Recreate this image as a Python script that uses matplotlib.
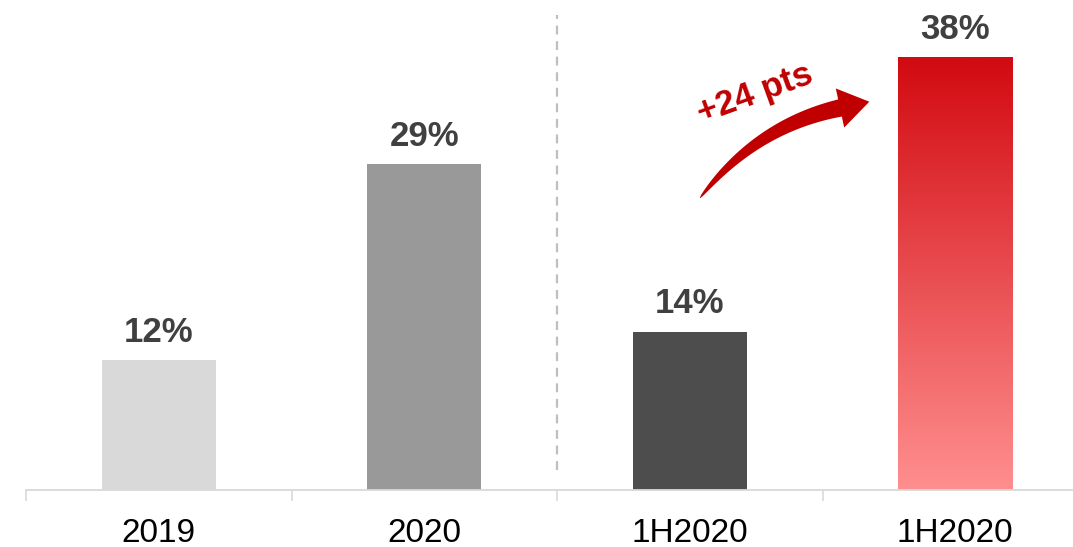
import numpy as np
import matplotlib.pyplot as plt
from matplotlib.colors import LinearSegmentedColormap
from matplotlib.patches import Polygon

plt.rcParams['font.family'] = ['Liberation Sans', 'DejaVu Sans']

categories = ['2019', '2020', '1H2020', '1H2020']
values = [11.5, 28.8, 14.0, 38.2]
bar_colors = ['#d9d9d9', '#999999', '#4d4d4d', None]
value_labels = ['12%', '29%', '14%', '38%']
delta_label = '+24 pts'

W, H = 1073, 547
fig = plt.figure(figsize=(W / 100, H / 100), dpi=100)
# axes spans pixel x 26..1088 (runs off the right edge), y 0..490
ax = fig.add_axes([26 / W, (H - 490) / H, 1062 / W, 490 / H])

x = np.arange(len(values))
bw = 0.43
bars = ax.bar(x, values, width=bw, color=[c if c else 'none' for c in bar_colors], zorder=2)

# gradient fill for the last bar
red_cmap = LinearSegmentedColormap.from_list('redgrad', ['#ff8f8f', '#d20a11'])
grad = np.linspace(0, 1, 256).reshape(-1, 1)
b = bars[3]
ax.imshow(grad, cmap=red_cmap, origin='lower', aspect='auto', zorder=2,
          extent=[b.get_x(), b.get_x() + b.get_width(), 0, b.get_height()])
ax.set_xlim(-0.5, 3.5)
ax.set_ylim(0, 490 / 11.32)

for xi, v, lab in zip(x, values, value_labels):
    ax.annotate(lab, (xi, v), xytext=(0, 8), textcoords='offset points',
                ha='center', va='bottom', fontsize=25, fontweight='bold', color='#404040')

# dashed separator between full year and half year
ax.axvline(1.5, ymin=(490 - 470) / 490, ymax=(490 - 15) / 490,
           color='#bfbfbf', linestyle=(0, (4, 3)), linewidth=1.6, zorder=1)

for s in ['top', 'right', 'left']:
    ax.spines[s].set_visible(False)
ax.spines['bottom'].set_color('#d9d9d9')
ax.spines['bottom'].set_linewidth(1.3)
ax.set_yticks([])
ax.set_xticks(np.arange(-0.5, 4.0, 1.0), minor=False)
ax.set_xticklabels([])
ax.set_xticks(x, minor=True)
ax.set_xticklabels(categories, minor=True)
ax.tick_params(axis='x', which='major', length=8, width=1.2, color='#d9d9d9')
ax.tick_params(axis='x', which='minor', length=0, pad=20, labelsize=24, labelcolor='black')


# curved tapering arrow, built in pixel space
def px(p):
    return (p[0] / W, 1 - p[1] / H)

P0 = np.array([700.0, 198.0])
C = np.array([756.0, 126.0])
P2 = np.array([840.0, 108.0])
t = np.linspace(0, 1, 60)[:, None]
pts = (1 - t) ** 2 * P0 + 2 * (1 - t) * t * C + t ** 2 * P2
d = 2 * (1 - t) * (C - P0) + 2 * t * (P2 - C)
d = d / np.linalg.norm(d, axis=1, keepdims=True)
nrm = np.column_stack([d[:, 1], -d[:, 0]])
wid = (0.5 + 17 * t[:, 0] ** 0.6)[:, None] / 2
upper = pts + nrm * wid
lower = pts - nrm * wid
end_dir = d[-1]
end_n = nrm[-1]
tip = P2 + end_dir * 30
head_a = P2 + end_n * 20
head_b = P2 - end_n * 20
outline = np.vstack([upper, head_a[None], tip[None], head_b[None], lower[::-1]])
fig.patches.append(Polygon([px(p) for p in outline], closed=True, transform=fig.transFigure,
                           facecolor='#c00000', edgecolor='none', zorder=5))

fig.text(755 / W, 1 - 94 / H, delta_label, rotation=20, ha='center', va='center',
         fontsize=25, fontweight='bold', color='#c00000', rotation_mode='anchor')

fig.savefig('out.png', dpi=100)
